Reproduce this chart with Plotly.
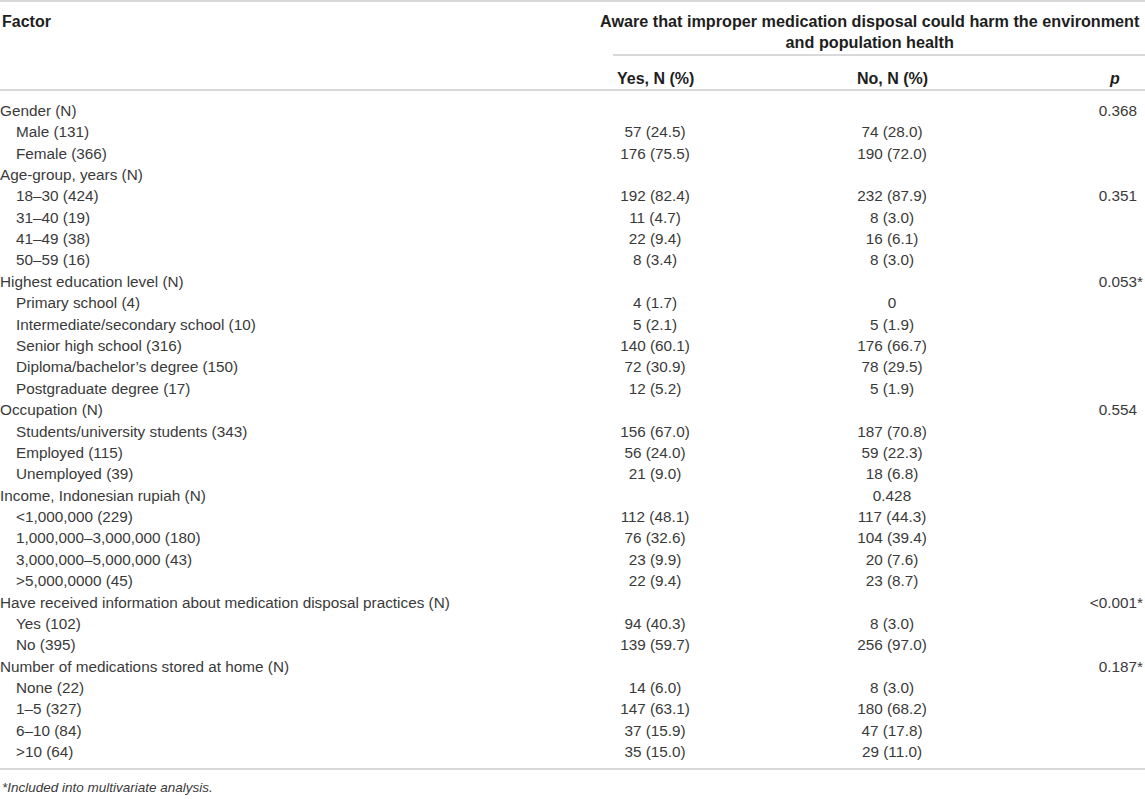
import plotly.graph_objects as go

# table content
groups = [
    "Gender (N)",
    "Age-group, years (N)",
    "Highest education level (N)",
    "Occupation (N)",
    "Income, Indonesian rupiah (N)",
    "Have received information about medication disposal practices (N)",
    "Number of medications stored at home (N)",
]
factors = [
    "Gender (N)", "Male (131)", "Female (366)",
    "Age-group, years (N)", "18–30 (424)", "31–40 (19)", "41–49 (38)", "50–59 (16)",
    "Highest education level (N)", "Primary school (4)", "Intermediate/secondary school (10)",
    "Senior high school (316)", "Diploma/bachelor’s degree (150)", "Postgraduate degree (17)",
    "Occupation (N)", "Students/university students (343)", "Employed (115)", "Unemployed (39)",
    "Income, Indonesian rupiah (N)", "<1,000,000 (229)", "1,000,000–3,000,000 (180)",
    "3,000,000–5,000,000 (43)", ">5,000,0000 (45)",
    "Have received information about medication disposal practices (N)", "Yes (102)", "No (395)",
    "Number of medications stored at home (N)", "None (22)", "1–5 (327)", "6–10 (84)", ">10 (64)",
]
yes_vals = [
    "", "57 (24.5)", "176 (75.5)",
    "", "192 (82.4)", "11 (4.7)", "22 (9.4)", "8 (3.4)",
    "", "4 (1.7)", "5 (2.1)", "140 (60.1)", "72 (30.9)", "12 (5.2)",
    "", "156 (67.0)", "56 (24.0)", "21 (9.0)",
    "", "112 (48.1)", "76 (32.6)", "23 (9.9)", "22 (9.4)",
    "", "94 (40.3)", "139 (59.7)",
    "", "14 (6.0)", "147 (63.1)", "37 (15.9)", "35 (15.0)",
]
no_vals = [
    "", "74 (28.0)", "190 (72.0)",
    "", "232 (87.9)", "8 (3.0)", "16 (6.1)", "8 (3.0)",
    "", "0", "5 (1.9)", "176 (66.7)", "78 (29.5)", "5 (1.9)",
    "", "187 (70.8)", "59 (22.3)", "18 (6.8)",
    "0.428", "117 (44.3)", "104 (39.4)", "20 (7.6)", "23 (8.7)",
    "", "8 (3.0)", "256 (97.0)",
    "", "8 (3.0)", "180 (68.2)", "47 (17.8)", "29 (11.0)",
]
p_vals = [
    "0.368", "", "",
    "", "0.351", "", "", "",
    "0.053*", "", "", "", "", "",
    "0.554", "", "", "",
    "", "", "", "", "",
    "<0.001*", "", "",
    "0.187*", "", "", "", "",
]
span_header = "Aware that improper medication disposal could harm the environment<br>and population health"
col_headers = ["Factor", "Yes, N (%)", "No, N (%)", "<i>p</i>"]
footnote = "*Included into multivariate analysis."

FONT = "Liberation Sans, Arial, sans-serif"
BODY = "#3a3a3a"
HEAD = "#1e1e1e"
RULE = "#cccccc"
W, H = 1145, 799

# row layout (pixels from top)
ROW0, ROW_H = 112, 21.38
rows = list(range(len(factors)))
row_y = [ROW0 + ROW_H * i for i in rows]
x_group, x_item, x_yes, x_no, x_p = 0, 16, 655, 892, 1137

fig = go.Figure()

grp = [i for i in rows if factors[i] in groups]
itm = [i for i in rows if factors[i] not in groups]

fig.add_trace(go.Scatter(x=[x_group] * len(grp), y=[row_y[i] for i in grp],
                         text=[factors[i] for i in grp], mode="text",
                         textposition="middle right"))
fig.add_trace(go.Scatter(x=[x_item] * len(itm), y=[row_y[i] for i in itm],
                         text=[factors[i] for i in itm], mode="text",
                         textposition="middle right"))
fig.add_trace(go.Scatter(x=[x_yes] * len(rows), y=row_y, text=yes_vals,
                         mode="text", textposition="middle center"))
fig.add_trace(go.Scatter(x=[x_no] * len(rows), y=row_y, text=no_vals,
                         mode="text", textposition="middle center"))
# p values right-aligned on the number, asterisk hanging past the edge
fig.add_trace(go.Scatter(x=[x_p] * len(rows), y=row_y,
                         text=[v.rstrip("*") for v in p_vals],
                         mode="text", textposition="middle left"))
fig.add_trace(go.Scatter(x=[x_p] * len(rows), y=row_y,
                         text=["*" if v.endswith("*") else "" for v in p_vals],
                         mode="text", textposition="middle right"))
fig.update_traces(textfont=dict(family=FONT, size=15.3, color=BODY),
                  hoverinfo="skip", showlegend=False, cliponaxis=False)


def head(x, y, text, anchor, size=16):
    fig.add_annotation(x=x, y=y, text=f"<b>{text}</b>", showarrow=False,
                       xanchor=anchor, yanchor="middle", align="center",
                       font=dict(family=FONT, size=size, color=HEAD))


head(x_group, 21, col_headers[0], "left")
head(870, 31, span_header, "center", size=16.2)
head(x_yes, 78, col_headers[1], "center")
head(x_no, 78, col_headers[2], "center")
head(1122, 78, col_headers[3], "right")

fig.add_annotation(x=0, y=787, text=f"<i>{footnote}</i>", showarrow=False,
                   xanchor="left", yanchor="middle",
                   font=dict(family=FONT, size=13.5, color=BODY))

# horizontal rules
for y0, xa in [(1, 0), (55, 613), (90, 0), (769, 0)]:
    fig.add_shape(type="line", x0=xa, x1=W, y0=y0, y1=y0, xref="x", yref="y",
                  line=dict(color=RULE, width=1.5))

fig.update_xaxes(range=[0, W], visible=False, fixedrange=True)
fig.update_yaxes(range=[H, 0], visible=False, fixedrange=True)
fig.update_layout(width=W, height=H, margin=dict(l=0, r=0, t=0, b=0),
                  plot_bgcolor="white", paper_bgcolor="white")

fig.write_html("out.html", config={"displayModeBar": False},
               post_script="document.body.style.margin='0px';")
